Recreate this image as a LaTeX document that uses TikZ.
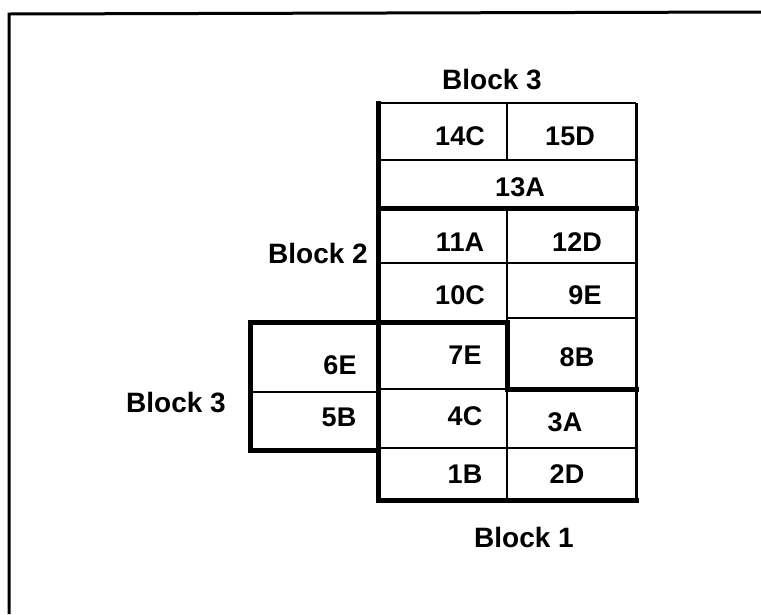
\documentclass[tikz,border=0pt]{standalone}
\usepackage{fontspec}
\setmainfont{Liberation Sans}
\usetikzlibrary{positioning}

\begin{document}
\begin{tikzpicture}[x=1pt,y=-1pt,
  cellline/.style={line width=2pt},
  blockline/.style={line width=5pt,line cap=rect},
  celltxt/.style={font=\fontsize{27}{30}\selectfont\bfseries,inner sep=0pt},
  blocktxt/.style={font=\fontsize{28}{31}\selectfont\bfseries,inner sep=0pt}]
\useasboundingbox (0,0) rectangle (761,614);
% --- frame ---
\draw[line width=3pt] (9,614) -- (9,14) -- (761,12);
% --- thin cell lines ---
\draw[cellline] (378,103) -- (636,103);
\draw[line width=3pt] (636,103) -- (636,500);
\draw[cellline] (378,160) -- (636,160);
\draw[cellline] (507,103) -- (507,160);
\draw[cellline] (507,208) -- (507,500);
\draw[cellline] (378,263) -- (636,263);
\draw[cellline] (507,318) -- (636,318);
\draw[cellline] (378,389) -- (507,389);
\draw[cellline] (378,448) -- (636,448);
\draw[cellline] (250,392) -- (378,392);
% --- block outlines ---
\draw[blockline] (378,103) -- (378,500) -- (636,500);
\draw[blockline] (378,208) -- (636,208);
\draw[blockline] (378,450) -- (250,450) -- (250,322) -- (507,322) -- (507,389) -- (636,389);
% --- cell labels ---
\node[celltxt] (c14) at (460,136) {14C};
\node[celltxt] (c15) at (570,136) {15D};
\node[celltxt] (c13) at (520,187) {13A};
\node[celltxt] (c11) at (460,242) {11A};
\node[celltxt] (c12) at (577,242) {12D};
\node[celltxt] (c10) at (460,295) {10C};
\node[celltxt] (c9) at (585,295) {9E};
\node[celltxt] (c7) at (465,355) {7E};
\node[celltxt] (c8) at (577,357) {8B};
\node[celltxt] (c6) at (340,365) {6E};
\node[celltxt] (c5) at (339,417) {5B};
\node[celltxt] (c4) at (465,416) {4C};
\node[celltxt] (c3) at (565,422) {3A};
\node[celltxt] (c1) at (465,474) {1B};
\node[celltxt] (c2) at (567,474) {2D};
% --- block labels ---
\node[blocktxt] (btop) at (492,80) {Block 3};
\node[blocktxt] (bmid) at (318,253) {Block 2};
\node[blocktxt] (bleft) at (176,403) {Block 3};
\node[blocktxt] (bbot) at (524,537) {Block 1};
\end{tikzpicture}
\end{document}
